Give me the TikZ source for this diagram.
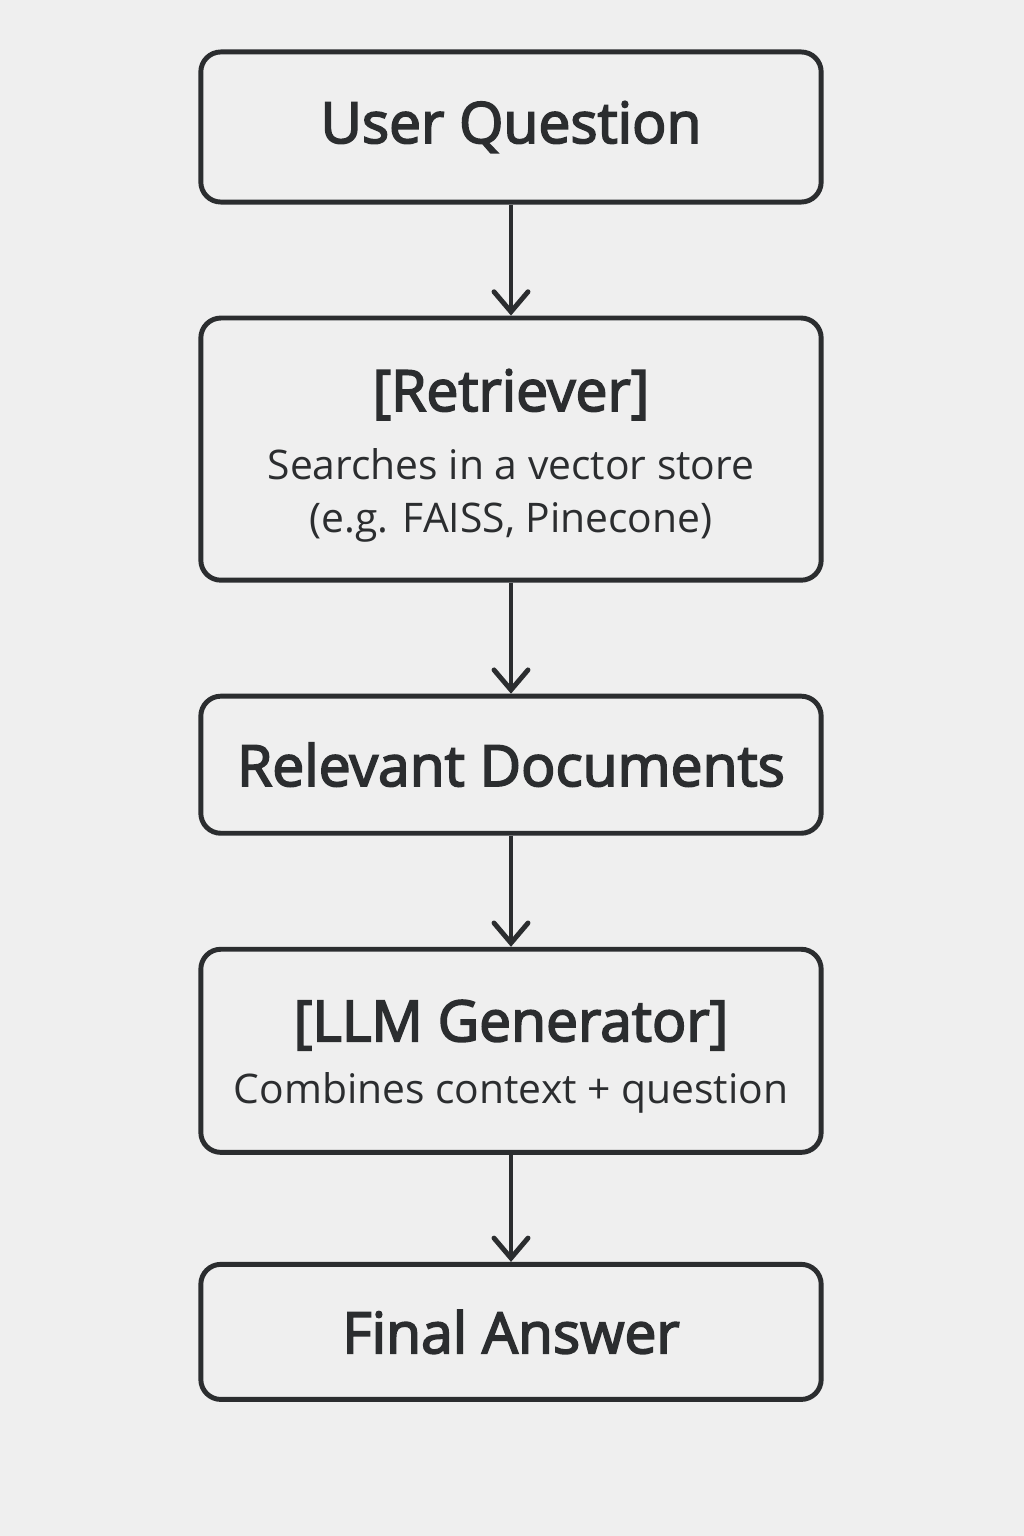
\documentclass[tikz,border=0pt]{standalone}
\usepackage{fontspec}
\setmainfont{Open Sans}
\newfontface\headfont{Open Sans}[FakeBold=3]
\usepackage{xcolor}
\usepackage{tikz}
\usetikzlibrary{positioning,arrows.meta}
\definecolor{ink}{HTML}{2B2D2F}
\definecolor{paper}{HTML}{EFEFEF}
\newcommand{\headtext}{\headfont\fontsize{16.2}{19}\selectfont}
\newcommand{\subtext}{\fontsize{11.6}{15}\selectfont}

\begin{document}
\begin{tikzpicture}[x=0.01cm, y=-0.01cm, node distance=1.11cm,
    box/.style={draw=ink, line width=1.4pt, rounded corners=0.2cm, minimum width=6.2cm,
      align=center, text=ink, inner sep=0pt},
    head/.style={font=\headtext},
    flow/.style={draw=ink, line width=1.4pt, -{Straight Barb[length=0.2cm, width=0.34cm, line cap=round]}}]
    \fill[paper] (0,0) rectangle (1024,1536);
    \useasboundingbox (0,0) rectangle (1024,1536);

    \node [box, head, minimum height=1.5cm] at (511,127) (Q) {User Question};
    \node [box, minimum height=2.62cm, below=of Q] (R)
      {{\headtext\rule{0pt}{0.55cm}[Retriever]}\\[0.26cm]
       {\subtext Searches in a vector store}\\[0.11cm]
       {\subtext (e.g. FAISS, Pinecone)}};
    \node [box, head, minimum height=1.37cm, below=of R] (D) {Relevant Documents};
    \node [box, minimum height=2.03cm, below=of D] (G)
      {{\headtext\rule{0pt}{0.53cm}[LLM Generator]}\\[0.2cm]
       {\subtext Combines context + question}};
    \node [box, head, minimum height=1.35cm, below=1.07cm of G] (A) {Final Answer};

    \draw [flow] (Q) -- (R);
    \draw [flow] (R) -- (D);
    \draw [flow] (D) -- (G);
    \draw [flow] (G) -- (A);
\end{tikzpicture}
\end{document}
